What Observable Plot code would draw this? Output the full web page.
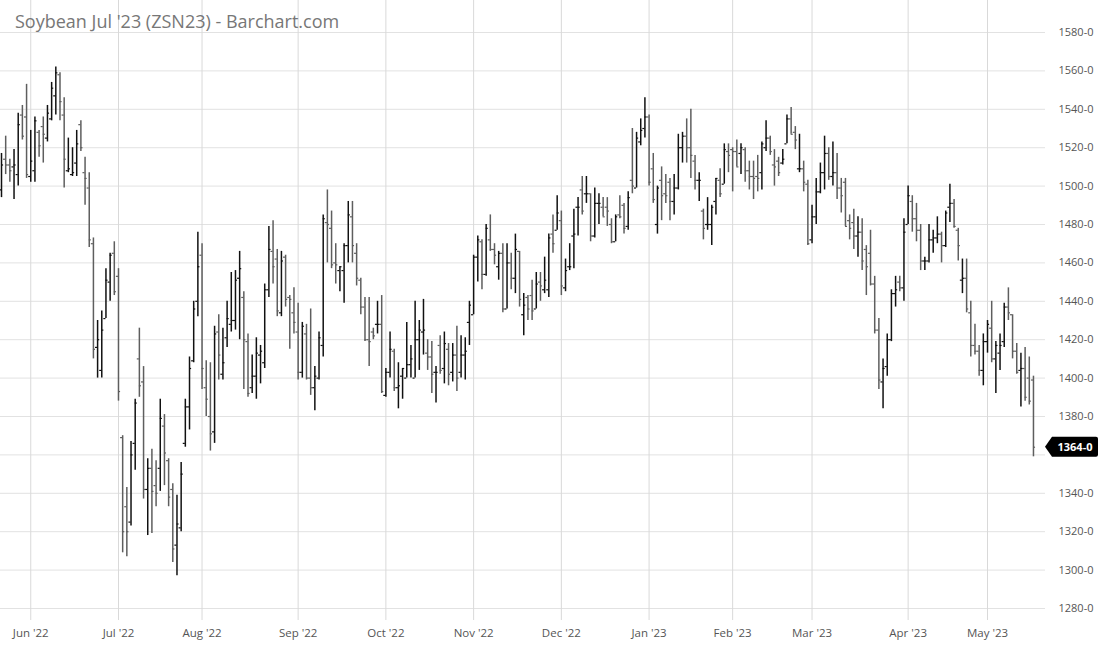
<!DOCTYPE html>
<html>
<head>
<meta charset="utf-8">
<script src="https://cdn.jsdelivr.net/npm/d3@7"></script>
<script src="https://cdn.jsdelivr.net/npm/@observablehq/plot@0.6"></script>
<style>
  html, body { margin: 0; padding: 0; background: #fff; }
  #wrap { position: relative; width: 1099px; height: 645px; overflow: hidden; font-family: "Open Sans", sans-serif; }
  #title { position: absolute; left: 15px; top: 10px; font-size: 18px; line-height: 22px; color: #777; font-family: "Open Sans", sans-serif; white-space: nowrap; }
</style>
</head>
<body>
<div id="wrap"><div id="chart"></div><div id="title"></div></div>
<script>
const titleText = "Soybean Jul '23 (ZSN23) - Barchart.com";
const lastLabel = "1364-0";
const lastPrice = 1364;

const open = [1498,1514,1511,1510,1506,1537,1536,1505,1508,1528,1531,1525,1535,1547,1558,1537,1508,1506,1512,1532,1507,1499,1470,1416,1404,1431,1450,1465,1453,1369,
1333,1325,1366,1410,1398,1342,1353,1344,1353,1375,1357,1342,1313,1322,1366,1385,1409,1440,1464,1395,1380,1372,1424,1402,1421,1428,1430,1452,1442,1419,
1395,1401,1412,1408,1446,1466,1462,1434,1463,1442,1434,1424,1403,1423,1400,1395,1400,1417,1481,1478,1460,1456,1456,1469,1484,1465,1451,1437,1420,1424,
1428,1428,1391,1403,1414,1395,1401,1400,1407,1400,1420,1424,1413,1411,1403,1417,1405,1415,1403,1412,1403,1412,1429,1433,1463,1471,1454,1472,1467,1458,
1465,1436,1460,1452,1466,1433,1442,1443,1436,1450,1446,1446,1475,1477,1482,1447,1458,1474,1489,1498,1496,1496,1474,1491,1489,1489,1480,1471,1485,1490,
1479,1503,1499,1523,1530,1536,1509,1480,1503,1496,1502,1492,1499,1520,1526,1520,1513,1503,1487,1480,1480,1492,1503,1501,1518,1519,1518,1517,1519,1508,
1505,1505,1507,1520,1525,1511,1513,1512,1522,1535,1528,1509,1509,1501,1472,1484,1497,1507,1517,1505,1507,1499,1502,1482,1481,1474,1476,1467,1465,1449,
1425,1398,1406,1420,1444,1450,1447,1480,1492,1483,1477,1461,1461,1472,1473,1475,1469,1489,1491,1477,1451,1452,1434,1417,1414,1404,1419,1426,1410,1413,
1419,1437,1433,1414,1404,1405,1400,1399];
const high = [1517,1526,1514,1519,1538,1542,1553,1529,1536,1529,1536,1542,1554,1562,1559,1546,1525,1520,1529,1534,1515,1507,1473,1430,1435,1457,1465,1471,1457,1370,
1343,1367,1389,1426,1406,1358,1363,1357,1389,1381,1358,1345,1339,1356,1389,1411,1440,1476,1470,1409,1408,1427,1433,1426,1440,1455,1456,1466,1445,1423,
1412,1421,1417,1449,1479,1482,1467,1466,1464,1443,1447,1439,1429,1428,1436,1406,1424,1485,1498,1487,1470,1458,1470,1492,1492,1470,1452,1442,1442,1426,
1440,1443,1405,1424,1415,1408,1405,1429,1417,1440,1430,1441,1420,1419,1406,1422,1424,1418,1418,1427,1422,1421,1440,1464,1474,1472,1480,1485,1470,1466,
1470,1470,1465,1475,1466,1444,1443,1451,1455,1455,1463,1475,1485,1495,1487,1462,1470,1488,1494,1505,1505,1496,1499,1496,1494,1494,1483,1485,1495,1491,
1497,1530,1528,1535,1546,1537,1517,1500,1510,1506,1504,1506,1527,1528,1535,1540,1516,1507,1488,1494,1490,1504,1509,1522,1522,1520,1524,1522,1520,1513,
1513,1516,1523,1534,1526,1519,1515,1519,1537,1541,1531,1527,1513,1503,1490,1504,1512,1526,1520,1523,1517,1504,1504,1485,1488,1484,1483,1469,1477,1453,
1431,1410,1423,1446,1453,1453,1483,1500,1495,1491,1480,1463,1480,1477,1484,1476,1487,1501,1493,1478,1462,1462,1440,1428,1417,1423,1430,1440,1419,1423,
1439,1447,1433,1418,1413,1416,1411,1401];
const low = [1494,1506,1502,1493,1500,1524,1504,1502,1502,1515,1512,1523,1534,1537,1534,1499,1507,1505,1505,1518,1490,1468,1410,1400,1400,1431,1440,1443,1388,1309,
1307,1323,1352,1390,1337,1318,1319,1333,1341,1344,1333,1304,1297,1320,1364,1373,1408,1432,1394,1380,1362,1366,1399,1399,1416,1424,1425,1420,1394,1390,
1392,1389,1397,1405,1442,1449,1432,1432,1437,1415,1423,1399,1400,1399,1391,1383,1399,1411,1460,1457,1449,1445,1439,1460,1460,1448,1433,1419,1406,1420,
1423,1392,1390,1400,1393,1384,1389,1400,1400,1400,1404,1412,1404,1392,1387,1402,1397,1396,1398,1393,1400,1399,1417,1433,1450,1446,1453,1466,1459,1451,
1434,1436,1446,1444,1437,1422,1430,1430,1436,1440,1444,1442,1465,1477,1443,1445,1456,1457,1474,1485,1491,1471,1473,1480,1484,1479,1470,1471,1483,1475,
1477,1496,1499,1521,1525,1500,1491,1475,1482,1491,1482,1485,1498,1512,1512,1504,1498,1492,1472,1477,1469,1485,1494,1501,1507,1497,1510,1506,1502,1498,
1493,1497,1498,1518,1516,1500,1505,1511,1522,1527,1519,1507,1497,1469,1470,1480,1496,1498,1503,1500,1493,1486,1479,1472,1467,1463,1456,1443,1448,1423,
1394,1384,1401,1419,1437,1445,1440,1480,1476,1471,1456,1456,1460,1465,1470,1460,1468,1481,1478,1461,1444,1434,1411,1412,1401,1396,1413,1408,1392,1404,
1416,1430,1410,1402,1385,1388,1386,1359];
const close = [1511,1511,1508,1511,1532,1526,1506,1513,1534,1521,1527,1538,1551,1559,1544,1514,1509,1507,1522,1520,1504,1472,1415,1420,1425,1451,1464,1445,1393,1320,
1320,1360,1387,1396,1342,1353,1341,1340,1379,1361,1338,1311,1324,1350,1385,1405,1436,1458,1405,1389,1371,1423,1412,1408,1431,1430,1451,1457,1420,1392,
1401,1413,1414,1446,1467,1458,1435,1461,1441,1441,1429,1403,1427,1400,1395,1401,1421,1483,1480,1459,1459,1458,1469,1485,1469,1452,1437,1420,1419,1422,
1428,1393,1403,1415,1395,1396,1405,1407,1410,1420,1425,1425,1411,1402,1403,1404,1418,1402,1412,1400,1412,1414,1438,1463,1472,1454,1478,1467,1464,1465,
1436,1460,1452,1467,1441,1438,1436,1435,1449,1448,1451,1473,1470,1486,1448,1456,1458,1475,1489,1487,1496,1474,1491,1491,1484,1487,1471,1484,1484,1478,
1494,1500,1525,1529,1536,1502,1493,1499,1495,1495,1492,1499,1520,1526,1520,1516,1503,1503,1478,1480,1489,1504,1496,1519,1516,1518,1510,1520,1508,1505,
1504,1504,1522,1525,1518,1510,1507,1514,1535,1527,1524,1509,1502,1470,1484,1497,1507,1517,1505,1507,1499,1495,1479,1478,1474,1476,1461,1458,1449,1425,
1399,1405,1420,1444,1446,1447,1476,1495,1483,1477,1461,1461,1472,1473,1475,1469,1486,1491,1479,1469,1452,1436,1417,1414,1404,1419,1428,1410,1417,1417,
1437,1434,1414,1403,1405,1390,1388,1364];

const monthLabels = ["Jun '22","Jul '22","Aug '22","Sep '22","Oct '22","Nov '22","Dec '22","Jan '23","Feb '23","Mar '23","Apr '23","May '23"];
const monthStartIndex = [7,28,48,71,92,113,134,155,175,194,217,236];
const yTicks = [1280,1300,1320,1340,1360,1380,1400,1420,1440,1460,1480,1500,1520,1540,1560,1580];

const bars = open.map((o, i) => ({i, open: o, high: high[i], low: low[i], close: close[i]}));
const ups = bars.filter(d => d.close >= d.open);
const downs = bars.filter(d => d.close < d.open);
// the price tag covers the tick label nearest to the last price
const labelTicks = yTicks.filter(v => Math.abs(v - lastPrice) > 6);

const W = 1099, H = 645;
const barMarks = (data, color) => [
  Plot.ruleX(data, {x: "i", y1: "low", y2: "high", stroke: color, strokeWidth: 1.5}),
  Plot.ruleY(data, {y: "open", x1: d => d.i - 0.5, x2: "i", stroke: color, strokeWidth: 1.2}),
  Plot.ruleY(data, {y: "close", x1: "i", x2: d => d.i + 0.5, stroke: color, strokeWidth: 1.2})
];

const chart = Plot.plot({
  width: W, height: H,
  marginLeft: 0, marginRight: 54, marginTop: 0, marginBottom: 25,
  style: {fontFamily: "'Open Sans', sans-serif", background: "transparent"},
  x: {domain: [-0.24, 249.88], label: null},
  y: {domain: [1273.75, 1596.67], label: null},
  marks: [
    Plot.gridY(yTicks, {stroke: "#e2e2e2", strokeOpacity: 1}),
    Plot.gridX(monthStartIndex, {stroke: "#d9d9d9", strokeOpacity: 1}),
    Plot.axisY(labelTicks, {anchor: "right", tickSize: 0, tickPadding: 13, tickFormat: d => `${d}-0`, fill: "#555", fontSize: 11, label: null}),
    Plot.axisX(monthStartIndex, {anchor: "bottom", tickSize: 0, tickPadding: 8, tickFormat: d => monthLabels[monthStartIndex.indexOf(d)], fill: "#555", fontSize: 11.5, label: null}),
    ...barMarks(downs, "#5e5e5e"),
    ...barMarks(ups, "#111")
  ]
});

// last price tag, positioned via the plot's y scale
const yy = chart.scale("y").apply(lastPrice);
const ns = "http://www.w3.org/2000/svg";
const g = document.createElementNS(ns, "g");
const path = document.createElementNS(ns, "path");
const x0 = 1045, x1 = 1052, x2 = 1098, h = 10;
path.setAttribute("d", `M${x0},${yy} L${x1},${yy - h} L${x2 - 2},${yy - h} Q${x2},${yy - h} ${x2},${yy - h + 2} L${x2},${yy + h - 2} Q${x2},${yy + h} ${x2 - 2},${yy + h} L${x1},${yy + h} Z`);
path.setAttribute("fill", "#000");
g.appendChild(path);
const t = document.createElementNS(ns, "text");
t.setAttribute("x", 1075);
t.setAttribute("y", yy);
t.setAttribute("dy", "0.35em");
t.setAttribute("text-anchor", "middle");
t.setAttribute("fill", "#fff");
t.setAttribute("font-weight", "bold");
t.setAttribute("font-size", "11");
t.setAttribute("font-family", "'Open Sans', sans-serif");
t.textContent = lastLabel;
g.appendChild(t);
chart.appendChild(g);

document.getElementById("chart").appendChild(chart);
document.getElementById("title").textContent = titleText;
</script>
</body>
</html>
